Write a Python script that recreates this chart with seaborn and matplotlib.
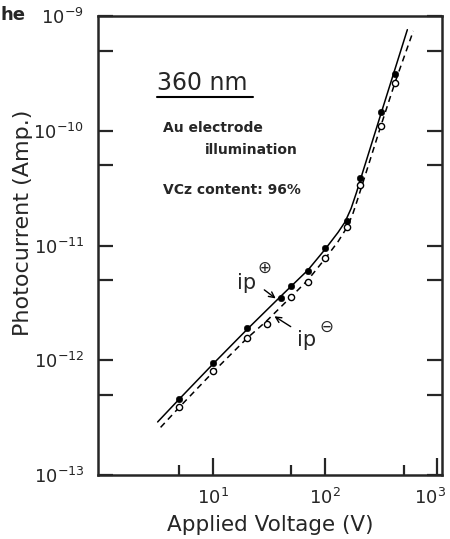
import numpy as np
import pandas as pd
import matplotlib
matplotlib.use("Agg")
import matplotlib.pyplot as plt
import matplotlib.transforms as mtransforms
from matplotlib.ticker import FixedLocator, NullFormatter, LogFormatterSciNotation
import seaborn as sns

sns.set_style("ticks")
plt.rcParams["font.family"] = ["DejaVu Sans"]

# measured points: ip(+) filled, ip(-) open
volt_pos = [5, 10, 20, 40, 50, 70, 100, 155, 205, 315, 415]
cur_pos = [4.6e-13, 9.4e-13, 1.9e-12, 3.5e-12, 4.4e-12, 6.0e-12, 9.5e-12,
           1.65e-11, 3.85e-11, 1.45e-10, 3.1e-10]
volt_neg = [5, 10, 20, 30, 50, 70, 100, 155, 205, 315, 420]
cur_neg = [3.9e-13, 8.0e-13, 1.55e-12, 2.05e-12, 3.55e-12, 4.8e-12, 7.8e-12,
           1.45e-11, 3.4e-11, 1.1e-10, 2.6e-10]

# guide curves
curve_pos_v = [3.2, 5, 10, 20, 40, 70, 100, 130, 150, 170, 190, 215, 315, 540]
curve_pos_i = [2.9e-13, 4.6e-13, 9.3e-13, 1.85e-12, 3.6e-12, 6.1e-12, 9.3e-12,
               1.3e-11, 1.6e-11, 2.1e-11, 2.9e-11, 4.3e-11, 1.42e-10, 7.6e-10]
curve_neg_v = [3.4, 5, 10, 20, 30, 50, 70, 100, 130, 155, 175, 195, 220, 315,
               420, 610]
curve_neg_i = [2.6e-13, 3.9e-13, 7.9e-13, 1.55e-12, 2.2e-12, 3.6e-12, 5.0e-12,
               7.7e-12, 1.08e-11, 1.42e-11, 1.85e-11, 2.55e-11, 3.7e-11,
               1.12e-10, 2.65e-10, 7.4e-10]
x_ticks = [10, 100, 1000]
x_minor = [5, 50, 500]
x_ticklabels = ["$10^{1}$", "$10^{2}$", "$10^{3}$"]
y_ticks = [1e-13, 1e-12, 1e-11, 1e-10, 1e-9]
y_minor = [5e-13, 5e-12, 5e-11, 5e-10]

pts_pos = pd.DataFrame({"V": volt_pos, "I": cur_pos})
pts_neg = pd.DataFrame({"V": volt_neg, "I": cur_neg})
line_pos = pd.DataFrame({"V": curve_pos_v, "I": curve_pos_i})
line_neg = pd.DataFrame({"V": curve_neg_v, "I": curve_neg_i})

fig = plt.figure(figsize=(4.5, 5.39), dpi=100)
ax = fig.add_axes([98 / 450, 64 / 539, 344 / 450, 459 / 539])
ax.set_xscale("log")
ax.set_yscale("log")

sns.lineplot(data=line_pos, x="V", y="I", ax=ax, color="black", lw=1.1,
             sort=False, estimator=None)
sns.lineplot(data=line_neg, x="V", y="I", ax=ax, color="black", lw=1.1,
             sort=False, estimator=None, linestyle=(0, (4, 3)))
sns.scatterplot(data=pts_pos, x="V", y="I", ax=ax, color="black", s=22,
                edgecolor="black", zorder=3)
sns.scatterplot(data=pts_neg, x="V", y="I", ax=ax, facecolor="white", s=20,
                edgecolor="black", linewidth=1.0, zorder=3)

ax.set_xlim(0.94, 1100)
ax.set_ylim(1e-13, 1e-9)

for s in ax.spines.values():
    s.set_linewidth(1.8)

ax.xaxis.set_major_locator(FixedLocator(x_ticks))
ax.xaxis.set_minor_locator(FixedLocator(x_minor))
ax.xaxis.set_major_formatter(NullFormatter())
ax.xaxis.set_minor_formatter(NullFormatter())
ax.yaxis.set_major_locator(FixedLocator(y_ticks))
ax.yaxis.set_minor_locator(FixedLocator(y_minor))
ax.yaxis.set_major_formatter(LogFormatterSciNotation())
ax.yaxis.set_minor_formatter(NullFormatter())
ax.tick_params(axis="x", which="major", direction="in", length=12, width=1.6,
               labelbottom=False)
ax.tick_params(axis="x", which="minor", direction="in", length=7, width=1.6,
               labelbottom=False)
ax.tick_params(axis="y", which="both", direction="in", length=11, width=1.6,
               right=True, labelsize=13, pad=10)

# x tick labels drawn by hand so the last one stays on the canvas
trans = mtransforms.blended_transform_factory(ax.transData, ax.transAxes)
for v, lab in zip(x_ticks, x_ticklabels):
    t = trans
    if v == x_ticks[-1]:
        t = mtransforms.offset_copy(trans, fig=fig, x=-5, units="points")
    ax.text(v, -0.05, lab, transform=t, fontsize=13, ha="center", va="center")

ax.set_xlabel("Applied Voltage (V)", fontsize=15.5)
ax.xaxis.set_label_coords(0.5, -0.088)
ax.set_ylabel("Photocurrent (Amp.)", fontsize=16)
ax.yaxis.set_label_coords(-0.19, 0.55)

# annotations
ax.text(0.172, 0.854, "360 nm", transform=ax.transAxes, fontsize=17,
        va="center", ha="left")
ax.plot([0.172, 0.451], [0.824, 0.824], transform=ax.transAxes, color="black",
        lw=1.5)
ax.text(0.189, 0.756, "Au electrode", transform=ax.transAxes, fontsize=10,
        fontweight="bold", va="center")
ax.text(0.311, 0.708, "illumination", transform=ax.transAxes, fontsize=10,
        fontweight="bold", va="center")
ax.text(0.189, 0.621, "VCz content: 96%", transform=ax.transAxes, fontsize=10,
        fontweight="bold", va="center")

ax.text(0.433, 0.418, "ip", transform=ax.transAxes, fontsize=15,
        ha="center", va="center")
ax.text(0.485, 0.451, "\u2295", transform=ax.transAxes, fontsize=12,
        ha="center", va="center")
ax.annotate("", xy=(0.523, 0.381), xytext=(0.477, 0.407),
            xycoords="axes fraction",
            arrowprops=dict(arrowstyle="->", lw=1.0, color="black"))
ax.text(0.605, 0.294, "ip", transform=ax.transAxes, fontsize=15,
        ha="center", va="center")
ax.text(0.663, 0.322, "\u2296", transform=ax.transAxes, fontsize=12,
        ha="center", va="center")
ax.annotate("", xy=(0.506, 0.349), xytext=(0.567, 0.320),
            xycoords="axes fraction",
            arrowprops=dict(arrowstyle="->", lw=1.0, color="black"))

fig.text(0.0, 0.972, "he", fontsize=13, fontweight="bold", va="center")

fig.savefig("out.png", dpi=100)
